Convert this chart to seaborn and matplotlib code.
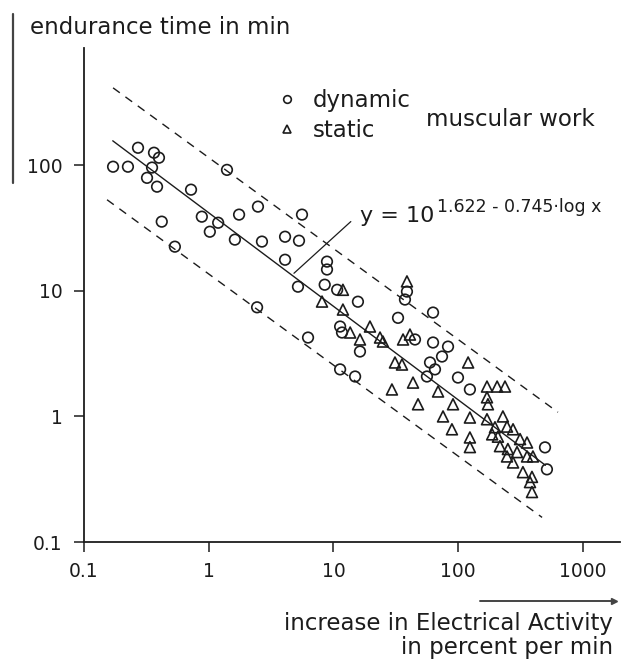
import numpy as np
import pandas as pd
import matplotlib
matplotlib.use('Agg')
import matplotlib.pyplot as plt
import seaborn as sns
from matplotlib.lines import Line2D
from matplotlib.ticker import NullLocator

sns.set_style('ticks')
plt.rcParams['font.family'] = ['DejaVu Sans']
ink = '#1c1c1c'

# dynamic muscular work (circles)
dyn_x = [0.171, 0.225, 0.271, 0.364, 0.399, 0.351, 0.32, 0.385, 0.721, 1.40,
         2.48, 1.75, 0.88, 1.19, 1.02, 1.62, 0.42, 0.535, 2.67, 5.59,
         4.09, 5.29, 4.09, 5.19, 8.87, 8.87, 8.5, 10.7, 15.7, 2.44,
         6.25, 32.9, 11.3, 11.7, 16.3, 38.8, 37.4, 62.8, 45, 62.8,
         82.8, 74.1, 59.4, 65.1, 56.1, 99.5, 124, 11.3, 14.9, 496, 514]
dyn_y = [97.5, 97.5, 138, 126, 115, 96, 79.5, 67.6, 64, 92,
         46.9, 40.5, 39, 34.9, 29.6, 25.6, 35.6, 22.5, 24.7, 40.5,
         27, 25.1, 17.7, 10.8, 17.1, 14.8, 11.2, 10.2, 8.2, 7.4,
         4.25, 6.1, 5.2, 4.66, 3.29, 9.87, 8.53, 6.72, 4.1, 3.88,
         3.6, 3.0, 2.69, 2.37, 2.08, 2.04, 1.64, 2.37, 2.08, 0.567, 0.379]

# static muscular work (triangles)
sta_x = [8.09, 11.9, 11.9, 19.6, 23.6, 13.6, 16.3, 38.8, 24.9, 36.1,
         41, 31.1, 35.4, 120, 170, 205, 237, 43.4, 29.4, 68.9,
         170, 173, 47.6, 90.8, 75.5, 124, 170, 228, 197, 246,
         275, 89, 124, 124, 187, 208, 313, 356, 216, 250,
         296, 356, 397, 246, 275, 330, 390, 376, 390]
sta_y = [8.22, 10.2, 7.1, 5.2, 4.25, 4.66, 4.1, 11.9, 3.95, 4.1,
         4.49, 2.69, 2.59, 2.69, 1.73, 1.73, 1.73, 1.86, 1.64, 1.58,
         1.42, 1.25, 1.25, 1.25, 1.0, 0.98, 0.95, 1.0, 0.82, 0.83,
         0.79, 0.79, 0.68, 0.57, 0.72, 0.69, 0.66, 0.62, 0.58, 0.55,
         0.52, 0.48, 0.48, 0.48, 0.43, 0.36, 0.33, 0.30, 0.25]

# fitted line y = 10^(1.622 - 0.745 log x) and the dashed band
fit_a, fit_b = 1.622, 0.745
fit_x = [0.17, 500]
upper_x = [0.171, 630]
upper_y = [414, 1.08]
lower_x = [0.153, 470]
lower_y = [53.2, 0.157]

xticks = [0.1, 1, 10, 100, 1000]
xtick_labels = ['0.1', '1', '10', '100', '1000']
yticks = [0.1, 1, 10, 100]
ytick_labels = ['0.1', '1', '10', '100']

df = pd.DataFrame({'x': dyn_x + sta_x, 'y': dyn_y + sta_y,
                   'work': ['dynamic'] * len(dyn_x) + ['static'] * len(sta_x)})

W, H = 622, 666
fig = plt.figure(figsize=(W / 100, H / 100), dpi=100)
ax = fig.add_axes([84 / W, 1 - 542 / H, (620 - 84) / W, (542 - 48) / H])
ax.set_xscale('log')
ax.set_yscale('log')

sns.scatterplot(data=df[df.work == 'dynamic'], x='x', y='y', marker='o',
                s=58, ax=ax, legend=False)
sns.scatterplot(data=df[df.work == 'static'], x='x', y='y', marker='^',
                s=62, ax=ax, legend=False)
for pts in ax.collections:
    pts.set_facecolor('none')
    pts.set_edgecolor(ink)
    pts.set_linewidth(1.2)

fx = np.array(fit_x)
sns.lineplot(x=fx, y=10 ** (fit_a - fit_b * np.log10(fx)), ax=ax, color=ink, lw=1.0,
             estimator=None, sort=False)
sns.lineplot(x=upper_x, y=upper_y, ax=ax, color=ink, lw=1.0, dashes=False,
             estimator=None, sort=False, linestyle=(0, (6, 5)))
sns.lineplot(x=lower_x, y=lower_y, ax=ax, color=ink, lw=1.0, dashes=False,
             estimator=None, sort=False, linestyle=(0, (6, 5)))

ax.set_xlim(0.1, 1980)
ax.set_ylim(0.1, 860)
ax.set_xticks(xticks)
ax.set_xticklabels(xtick_labels)
ax.set_yticks(yticks)
ax.set_yticklabels(ytick_labels)
ax.xaxis.set_minor_locator(NullLocator())
ax.yaxis.set_minor_locator(NullLocator())
ax.tick_params(direction='out', length=7.5, width=1.1, color=ink, labelsize=13.5,
               labelcolor=ink)
ax.tick_params(axis='x', pad=7)
ax.tick_params(axis='y', pad=8)
ax.set_xlabel('')
ax.set_ylabel('')
sns.despine(ax=ax)
for sp in ['left', 'bottom']:
    ax.spines[sp].set_linewidth(1.3)
    ax.spines[sp].set_color(ink)

# annotation of the fitted line
xa = 4.64
ax.annotate('', xy=(xa, 10 ** (fit_a - fit_b * np.log10(xa))), xytext=(14.3, 36.9),
            arrowprops=dict(arrowstyle='-', color=ink, lw=0.9))
fig.text(360 / W, 1 - 216 / H, 'y = 10', fontsize=16, color=ink, ha='left', va='center')
fig.text(437 / W, 1 - 207 / H, '1.622 - 0.745·log x', fontsize=12.5, color=ink,
         ha='left', va='center')

# legend
handles = [Line2D([], [], ls='none', marker='o', ms=5.5, mfc='none', mec=ink, mew=1.2),
           Line2D([], [], ls='none', marker='^', ms=5.5, mfc='none', mec=ink, mew=1.2)]
ax.legend(handles, ['dynamic', 'static'], loc='upper left', frameon=False,
          bbox_to_anchor=(276 / W, 1 - 89 / H), bbox_transform=fig.transFigure,
          fontsize=16.5, handlelength=1.0, handletextpad=0.6, labelspacing=0.32,
          borderpad=0, borderaxespad=0, labelcolor=ink)
fig.text(426 / W, 1 - 119 / H, 'muscular work', fontsize=16.5, color=ink,
         ha='left', va='center')

# axis titles with their arrows
fig.text(30 / W, 1 - 27 / H, 'endurance time in min', fontsize=16.5, color=ink,
         ha='left', va='center')
fig.add_artist(Line2D([13 / W, 13 / W], [1 - 183 / H, 1 - 14 / H], color='#444444', lw=1.6))
fig.text(613 / W, 1 - 630 / H, 'increase in Electrical Activity', fontsize=16.5, color=ink,
         ha='right', va='baseline')
fig.text(613 / W, 1 - 654 / H, 'in percent per min', fontsize=16.5, color=ink,
         ha='right', va='baseline')
fig.add_artist(Line2D([480 / W, 614 / W], [1 - 601 / H, 1 - 601 / H], color='#444444', lw=1.4))
fig.add_artist(Line2D([614 / W], [1 - 601 / H], marker='>', ms=5, color='#444444'))

fig.savefig('out.png', dpi=100)
